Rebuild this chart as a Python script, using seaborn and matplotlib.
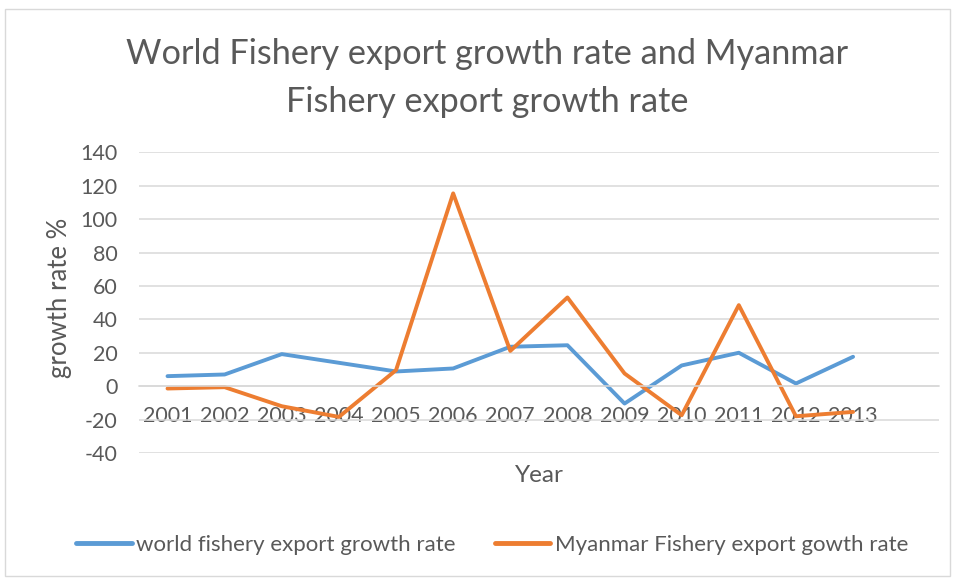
import matplotlib
matplotlib.use("Agg")
import matplotlib.pyplot as plt
import seaborn as sns
import pandas as pd
from matplotlib.patches import Rectangle

years = ["2001", "2002", "2003", "2004", "2005", "2006", "2007",
         "2008", "2009", "2010", "2011", "2012", "2013"]
world = [6, 7, 19.2, 14, 8.8, 10.6, 23.6, 24.5, -10.4, 12.4, 20, 1.6, 17.6]
myanmar = [-1.4, -0.6, -12, -18.4, 9.6, 115.4, 21.1, 53.1, 7.6, -17.4, 48.5, -18, -15.4]
series_names = ["world fishery export growth rate", "Myanmar Fishery export gowth rate"]
yticks = [-40, -20, 0, 20, 40, 60, 80, 100, 120, 140]

sns.set_theme(style="white")
plt.rcParams['font.family'] = ['Lato', 'DejaVu Sans']
TXT = "#595959"

df = pd.DataFrame({
    "idx": list(range(len(years))) * 2,
    "value": world + myanmar,
    "series": [series_names[0]] * len(years) + [series_names[1]] * len(years),
})

fig = plt.figure(figsize=(9.55, 5.81), dpi=100)
ax = fig.add_axes([0.1455, 0.2203, 0.8375, 0.5176])

sns.lineplot(data=df, x="idx", y="value", hue="series", sort=False,
             palette=["#5B9BD5", "#ED7D31"], linewidth=2.8, ax=ax, legend=True)

ax.set_xlim(-0.5, 13.5)
ax.set_ylim(-40, 140)
ax.set_yticks(yticks)
ax.set_yticklabels([str(v) for v in yticks])
ax.set_xticks(range(len(years)))
ax.set_xticklabels(years)
ax.yaxis.grid(True, color="#D9D9D9", linewidth=1.1)
ax.set_axisbelow(True)
for s in ["top", "right", "left"]:
    ax.spines[s].set_visible(False)
ax.spines["bottom"].set_position(("data", 0))
ax.spines["bottom"].set_color("#D9D9D9")
ax.spines["bottom"].set_linewidth(1.1)
ax.tick_params(axis="x", length=0, pad=14, labelsize=15.5, labelcolor=TXT)
ax.tick_params(axis="y", length=0, pad=15.5, labelsize=15.5, labelcolor=TXT)

ax.set_xlabel("")
ax.set_ylabel("growth rate %", fontsize=18.5, color=TXT)
ax.yaxis.set_label_coords((72 - 139) / 800, (453 - 297.5) / 301)
fig.text(539 / 955, 1 - 476 / 581, "Year", ha="center", va="center", fontsize=17.5, color=TXT)

fig.text(487 / 955, 1 - 78 / 581,
         "World Fishery export growth rate and Myanmar\nFishery export growth rate",
         ha="center", va="center", fontsize=24.7, color=TXT, linespacing=1.6)

leg = ax.legend(loc="center", bbox_to_anchor=(492 / 955, 1 - 545 / 581),
                bbox_transform=fig.transFigure, ncol=2, frameon=False,
                fontsize=16, handlelength=2.5, handletextpad=0.2, columnspacing=1.75)
for t in leg.get_texts():
    t.set_color(TXT)
for l in leg.get_lines():
    l.set_linewidth(3.5)

fig.patches.append(Rectangle((5 / 955, 1 - 576 / 581), 945 / 955, 567 / 581,
                             transform=fig.transFigure, fill=False,
                             edgecolor="#D9D9D9", linewidth=1))

fig.savefig("out.png", dpi=100)
